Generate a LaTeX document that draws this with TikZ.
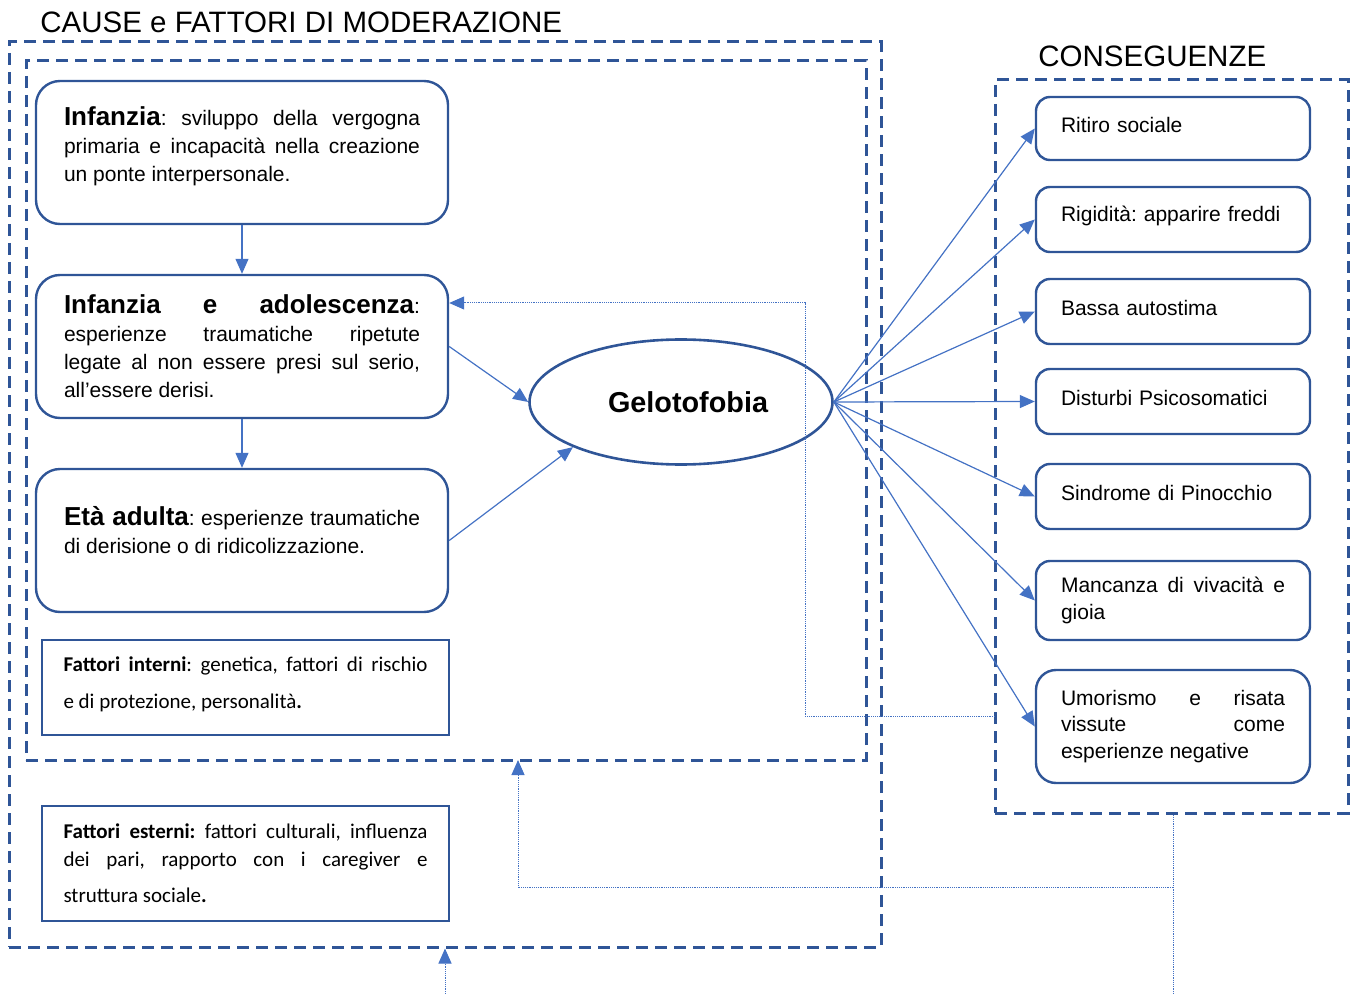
\documentclass[tikz,border=0pt]{standalone}
\usepackage{fontspec}
\setmainfont{Liberation Sans}
\newfontfamily\calibri{Carlito}
\usetikzlibrary{shapes.geometric, arrows.meta}
\frenchspacing
\definecolor{frameblue}{RGB}{47,85,151}
\definecolor{lineblue}{RGB}{68,114,196}
\newcommand{\phase}[1]{{\fontsize{13}{14}\selectfont\bfseries #1}}
\tikzstyle{arrow} = [draw=lineblue, line width=0.6pt, -{Triangle[length=7.5pt,width=6.5pt]}]
\tikzstyle{fback} = [draw=lineblue, line width=0.5pt, dash pattern=on 0.6pt off 0.5pt]
\tikzstyle{fbarrow} = [fback, -{Triangle[length=7.5pt,width=6.5pt]}]
\tikzstyle{frame} = [rectangle, draw=frameblue, line width=1.5pt, dash pattern=on 6pt off 3.5pt, inner sep=0pt]
\tikzstyle{block} = [rectangle, rounded corners=12pt, draw=frameblue, line width=1.2pt, minimum width=206pt, minimum height=71.5pt, text width=178pt, inner xsep=14pt, align=justify, font=\fontsize{10.5}{14}\selectfont]
\tikzstyle{factor} = [rectangle, draw=frameblue, line width=1.2pt, minimum width=203.5pt, text width=182pt, inner xsep=10.75pt, align=justify, font=\calibri\fontsize{10.5}{14}\selectfont]
\tikzstyle{cons} = [rectangle, rounded corners=7pt, draw=frameblue, line width=1.2pt, minimum width=137pt, minimum height=32.5pt, text width=112pt, inner xsep=12.5pt, align=left, font=\fontsize{10.5}{13.25}\selectfont]
\tikzstyle{short} = [cons, execute at end node={\endgraf\kern4pt}]
\tikzstyle{heading} = [font=\fontsize{14.75}{17}\selectfont, inner sep=0pt, anchor=base west]

\begin{document}
\begin{tikzpicture}[x=0.5pt, y=-0.5pt, node distance=97pt]
		\useasboundingbox (0,0) rectangle (1353,994);
		% cornici
		\node(fo) [frame, minimum width=436pt, minimum height=452.5pt] at (445,494.5) {};
		\node(fi) [frame, minimum width=420pt, minimum height=349.5pt] at (446,410.5) {};
		\node(fr) [frame, minimum width=176.5pt, minimum height=366.5pt] at (1171.5,446.5) {};
		\node(tc) [heading] at (40,33) {CAUSE e FATTORI DI MODERAZIONE};
		\node(tr) [heading] at (1038,67) {CONSEGUENZE};
		% cause
		\node(c1) [block] at (242,152.5) {\phase{Infanzia}: sviluppo della vergogna\linebreak primaria e incapacità nella creazione\linebreak un ponte interpersonale.\par\kern6pt};
		\node(c2) [block, below of=c1] {\phase{Infanzia e adolescenza}:\linebreak esperienze traumatiche ripetute\linebreak legate al non essere presi sul serio,\linebreak all’essere derisi.};
		\node(c3) [block, below of=c2] {\phase{Età adulta}: esperienze traumatiche\linebreak di derisione o di ridicolizzazione.\par\kern10pt};
		\node(f1) [factor, minimum height=47.5pt, font=\calibri\fontsize{10.5}{18.5}\selectfont] at (245.5,687.5) {\textbf{Fattori interni}: genetica, fattori di rischio\linebreak e di protezione, personalità\textbf{.}\par\kern3pt};
		\node(f2) [factor, minimum height=57.5pt] at (245.5,863.5) {\textbf{Fattori esterni:} fattori culturali, influenza\linebreak dei pari, rapporto con i caregiver e{\parfillskip=0pt\par}\vspace{4pt}struttura sociale\textbf{.}};
		\node(g) [ellipse, draw=frameblue, line width=1.3pt, minimum width=151.5pt, minimum height=62.5pt, inner sep=0pt, font=\fontsize{14.4}{17}\selectfont\bfseries] at (681,402) {\hspace*{7pt}Gelotofobia};
		% conseguenze
		\node(r1) [short, minimum height=31.5pt] at (1173,128.5) {Ritiro sociale};
		\node(r2) [short] at (1173,219.5) {Rigidità: apparire freddi};
		\node(r3) [short] at (1173,311.5) {Bassa autostima};
		\node(r4) [short] at (1173,401.5) {Disturbi Psicosomatici};
		\node(r5) [short] at (1173,496.5) {Sindrome di Pinocchio};
		\node(r6) [cons, minimum height=39.5pt, align=justify] at (1173,600.5) {Mancanza di vivacità e\linebreak gioia};
		\node(r7) [cons, rounded corners=10pt, minimum height=56.5pt, align=justify] at (1173,726.5) {Umorismo e risata\linebreak vissute come\linebreak esperienze negative};
		\draw [arrow] (c1) -- (c2);
		\draw [arrow] (c2) -- (c3);
		\draw [arrow] (c2.east) -- (g.west);
		\draw [arrow] (c3.east) -- (g.south west);
		\draw [arrow] (g.east) -- (r1.west);
		\draw [arrow] (g.east) -- (r2.west);
		\draw [arrow] (g.east) -- (r3.west);
		\draw [arrow] (g.east) -- (r4.west);
		\draw [arrow] (g.east) -- (r5.west);
		\draw [arrow] (g.east) -- (r6.west);
		\draw [arrow] (g.east) -- (r7.west);
		% retroazioni
		\coordinate(fbin) at (995,716);
		\coordinate(fbturn) at (805,303);
		\draw [fbarrow] (fbin) -| (fbturn) -- (c2.east |- fbturn);
		\coordinate(out1) at (1173,994);
		\coordinate(split) at (1173,887);
		\coordinate(inin) at (518,760);
		\coordinate(out2) at (445,994);
		\draw [fback] (fr.south -| out1) -- (out1);
		\draw [fbarrow] (split) -| (inin);
		\draw [fbarrow] (out2) -- (fo.south);
	\end{tikzpicture}
\end{document}
